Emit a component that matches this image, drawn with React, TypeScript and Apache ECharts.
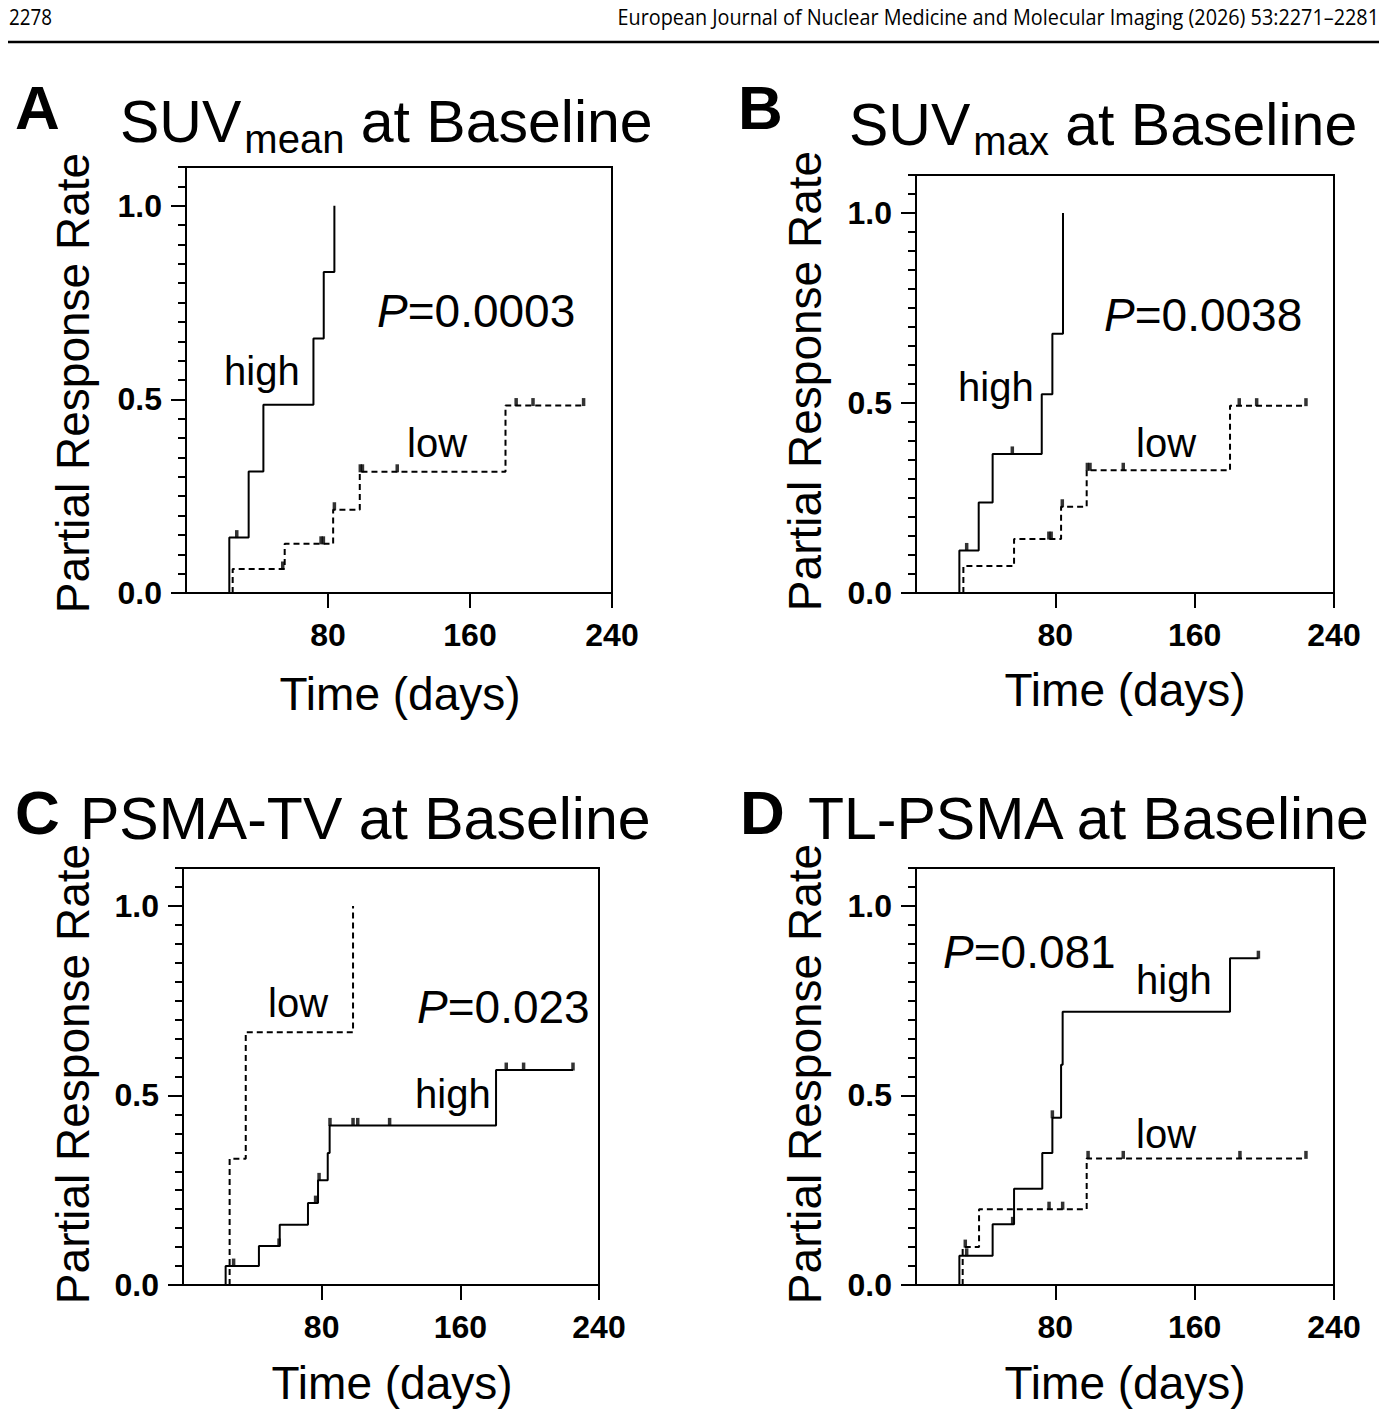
import React, { useEffect, useRef } from "react";
import * as echarts from "echarts";

// ---------- Panel A: SUVmean at Baseline ----------
const aHighTimes = [24.4, 35.3, 43.6, 71.8, 77.6, 83.6];
const aHighRates = [0.143, 0.314, 0.486, 0.657, 0.829, 1.0];
const aHighCensored = [28.6];
const aHighLast = 83.6;
const aLowTimes = [26.3, 55.6, 82.9, 97.9, 180.0];
const aLowRates = [0.062, 0.127, 0.215, 0.313, 0.484];
const aLowCensored = [54.5, 76.1, 77.4, 83.6, 98.2, 99.4, 119.0, 186.0, 195.5, 224.0];
const aLowLast = 224.0;

// ---------- Panel B: SUVmax at Baseline ----------
const bHighTimes = [24.9, 36.0, 44.0, 72.2, 78.3, 84.4];
const bHighRates = [0.112, 0.238, 0.366, 0.523, 0.682, 1.0];
const bHighCensored = [29.1, 55.3];
const bHighLast = 84.4;
const bLowTimes = [27.2, 56.3, 83.3, 98.0, 180.3];
const bLowRates = [0.071, 0.142, 0.227, 0.323, 0.493];
const bLowCensored = [76.3, 77.6, 84.0, 98.4, 99.9, 119.0, 185.6, 195.6, 223.9];
const bLowLast = 223.9;

// ---------- Panel C: PSMA-TV at Baseline ----------
const cLowTimes = [26.9, 36.2, 98.1];
const cLowRates = [0.333, 0.667, 1.0];
const cLowCensored: number[] = [];
const cLowLast = 98.1;
const cHighTimes = [24.6, 43.8, 55.8, 72.1, 77.9, 83.5, 84.6, 180.6];
const cHighRates = [0.05, 0.103, 0.159, 0.216, 0.276, 0.348, 0.421, 0.567];
const cHighCensored = [29.2, 55.4, 76.5, 78.5, 84.8, 98.1, 100.8, 119.2, 186.5, 196.5, 225.0];
const cHighLast = 225.0;

// ---------- Panel D: TL-PSMA at Baseline ----------
const dHighTimes = [24.9, 44.0, 56.3, 72.5, 78.3, 83.3, 84.2, 180.3];
const dHighRates = [0.077, 0.16, 0.254, 0.348, 0.441, 0.581, 0.721, 0.862];
const dHighCensored = [29.1, 55.5, 78.3, 196.6];
const dHighLast = 196.6;
const dLowTimes = [26.8, 36.2, 98.0];
const dLowRates = [0.1, 0.2, 0.334];
const dLowCensored = [28.3, 76.4, 84.2, 98.8, 119.0, 186.0, 223.9];
const dLowLast = 223.9;

// ---------- Axes ----------
const xTickValues = [80, 160, 240];
const yLabelValues = [0, 0.5, 1.0];
const xMax = 240;
const yMax = 1.1;

const FONT = '"Liberation Sans", Arial, sans-serif';
const CENTRAL = 0.347; // central baseline offset (em) for Liberation Sans
const HEADER_FONT = '"Open Sans", sans-serif';
const HEADER_CENTRAL = 0.388;

type Curve = { times: number[]; rates: number[]; censored: number[]; last: number; dashed: boolean };

const panels: { grid: any; curves: Curve[] }[] = [
  {
    grid: { left: 186, top: 167, width: 426, height: 426 },
    curves: [
      { times: aHighTimes, rates: aHighRates, censored: aHighCensored, last: aHighLast, dashed: false },
      { times: aLowTimes, rates: aLowRates, censored: aLowCensored, last: aLowLast, dashed: true },
    ],
  },
  {
    grid: { left: 916, top: 175, width: 418, height: 418 },
    curves: [
      { times: bHighTimes, rates: bHighRates, censored: bHighCensored, last: bHighLast, dashed: false },
      { times: bLowTimes, rates: bLowRates, censored: bLowCensored, last: bLowLast, dashed: true },
    ],
  },
  {
    grid: { left: 183, top: 868, width: 416, height: 417 },
    curves: [
      { times: cLowTimes, rates: cLowRates, censored: cLowCensored, last: cLowLast, dashed: true },
      { times: cHighTimes, rates: cHighRates, censored: cHighCensored, last: cHighLast, dashed: false },
    ],
  },
  {
    grid: { left: 916, top: 868, width: 418, height: 417 },
    curves: [
      { times: dHighTimes, rates: dHighRates, censored: dHighCensored, last: dHighLast, dashed: false },
      { times: dLowTimes, rates: dLowRates, censored: dLowCensored, last: dLowLast, dashed: true },
    ],
  },
];

function stepData(c: Curve) {
  const pts: number[][] = [[c.times[0], 0]];
  c.times.forEach((t, i) => pts.push([t, c.rates[i]]));
  if (c.last > c.times[c.times.length - 1]) pts.push([c.last, c.rates[c.rates.length - 1]]);
  return pts;
}
function rateAt(c: Curve, t: number) {
  let r = 0;
  c.times.forEach((tt, i) => {
    if (tt <= t + 1e-9) r = c.rates[i];
  });
  return r;
}

let measureCtx: CanvasRenderingContext2D | null = null;
function textWidth(text: string, font: string) {
  if (!measureCtx) measureCtx = document.createElement("canvas").getContext("2d");
  measureCtx!.font = font;
  return measureCtx!.measureText(text).width;
}
function fontStr(size: number, weight = "normal", style = "normal", family = FONT) {
  return `${style} ${weight} ${size}px ${family}`;
}

type Seg = { text: string; size: number; weight?: string; style?: string; dy?: number; gap?: number };
function textRun(x: number, baseline: number, segs: Seg[]) {
  const els: any[] = [];
  let cx = x;
  for (const s of segs) {
    const font = fontStr(s.size, s.weight, s.style);
    els.push({
      type: "text",
      x: cx,
      y: baseline + (s.dy || 0) - CENTRAL * s.size,
      silent: true,
      style: {
        text: s.text,
        font,
        fill: "#000",
        textAlign: "left",
        textVerticalAlign: "middle",
        align: "left",
        verticalAlign: "middle",
      },
    });
    cx += textWidth(s.text, font) + (s.gap || 0);
  }
  return els;
}
function centerText(cx: number, baseline: number, text: string, size: number) {
  return {
    type: "text",
    x: cx,
    y: baseline - CENTRAL * size,
    silent: true,
    style: {
      text,
      font: fontStr(size),
      fill: "#000",
      textAlign: "center",
      textVerticalAlign: "middle",
      align: "center",
      verticalAlign: "middle",
    },
  };
}
function yName(cx: number, cy: number) {
  return {
    type: "text",
    x: cx,
    y: cy,
    rotation: Math.PI / 2,
    silent: true,
    style: {
      text: "Partial Response Rate",
      font: fontStr(46),
      fill: "#000",
      textAlign: "center",
      textVerticalAlign: "middle",
      align: "center",
      verticalAlign: "middle",
    },
  };
}
function headerText(x: number, baseline: number, text: string, targetWidth: number, alignRight: boolean) {
  const size = 21;
  const font = `normal normal ${size}px ${HEADER_FONT}`;
  const w = textWidth(text, font);
  return {
    type: "text",
    x,
    y: baseline - HEADER_CENTRAL * size,
    scaleX: targetWidth / w,
    silent: true,
    style: {
      text,
      font,
      fill: "#000",
      textAlign: alignRight ? "right" : "left",
      textVerticalAlign: "middle",
      align: alignRight ? "right" : "left",
      verticalAlign: "middle",
    },
  };
}

function buildOption() {
  const grid: any[] = [];
  const xAxis: any[] = [];
  const yAxis: any[] = [];
  const series: any[] = [];

  panels.forEach((p, i) => {
    grid.push({ ...p.grid, show: true, borderColor: "#000", borderWidth: 2, backgroundColor: "transparent" });
    xAxis.push({
      type: "value",
      gridIndex: i,
      min: 0,
      max: xMax,
      interval: 80,
      position: "bottom",
      axisLine: { show: true, lineStyle: { color: "#000", width: 2 } },
      axisTick: { show: true, length: 15, customValues: xTickValues, lineStyle: { color: "#000", width: 2 } },
      axisLabel: {
        show: true,
        customValues: xTickValues,
        margin: 26,
        color: "#000",
        fontFamily: FONT,
        fontWeight: "bold",
        fontSize: 32,
      },
      splitLine: { show: false },
    });
    // minor ticks every 0.05 + labels
    yAxis.push({
      type: "value",
      gridIndex: i,
      min: 0,
      max: yMax,
      interval: 0.05,
      position: "left",
      axisLine: { show: true, lineStyle: { color: "#000", width: 2 } },
      axisTick: { show: true, length: 8, lineStyle: { color: "#000", width: 2 } },
      axisLabel: {
        show: true,
        customValues: yLabelValues,
        formatter: (v: number) => v.toFixed(1),
        margin: 24,
        color: "#000",
        fontFamily: FONT,
        fontWeight: "bold",
        fontSize: 32,
      },
      splitLine: { show: false },
    });
    // major ticks at 0, 0.5, 1.0
    yAxis.push({
      type: "value",
      gridIndex: i,
      min: 0,
      max: yMax,
      interval: 0.5,
      position: "left",
      axisLine: { show: false },
      axisTick: { show: true, length: 15, customValues: yLabelValues, lineStyle: { color: "#000", width: 2 } },
      axisLabel: { show: false },
      splitLine: { show: false },
    });

    p.curves.forEach((c) => {
      series.push({
        type: "line",
        xAxisIndex: i,
        yAxisIndex: i * 2,
        step: "end",
        symbol: "none",
        data: stepData(c),
        lineStyle: { color: "#000", width: 2, type: c.dashed ? [6, 4] : "solid" },
        z: 3,
      });
      series.push({
        type: "scatter",
        xAxisIndex: i,
        yAxisIndex: i * 2,
        symbol: "rect",
        symbolSize: [3.5, 8],
        symbolOffset: [0, -3.5],
        itemStyle: { color: "#000" },
        data: c.censored.map((t) => [t, rateAt(c, t)]),
        z: 4,
      });
    });
  });

  const graphic: any[] = [];
  // header
  graphic.push(headerText(9, 25, "2278", 43, false));
  graphic.push(
    headerText(1379, 25, "European Journal of Nuclear Medicine and Molecular Imaging (2026) 53:2271–2281", 762, true)
  );
  graphic.push({
    type: "line",
    silent: true,
    shape: { x1: 8, y1: 42, x2: 1379, y2: 42 },
    style: { stroke: "#000", lineWidth: 2.7 },
  });

  // panel letters
  graphic.push(...textRun(15, 129, [{ text: "A", size: 62, weight: "bold" }]));
  graphic.push(...textRun(738, 129, [{ text: "B", size: 62, weight: "bold" }]));
  graphic.push(...textRun(15, 834, [{ text: "C", size: 62, weight: "bold" }]));
  graphic.push(...textRun(740, 834, [{ text: "D", size: 62, weight: "bold" }]));

  // titles
  graphic.push(
    ...textRun(120, 142, [
      { text: "SUV", size: 59, gap: 3 },
      { text: "mean", size: 40, dy: 11 },
      { text: " at Baseline", size: 59 },
    ])
  );
  graphic.push(
    ...textRun(849, 145, [
      { text: "SUV", size: 59, gap: 3 },
      { text: "max", size: 40, dy: 10 },
      { text: " at Baseline", size: 59 },
    ])
  );
  graphic.push(...textRun(80, 839, [{ text: "PSMA-TV at Baseline", size: 59 }]));
  graphic.push(...textRun(808, 839, [{ text: "TL-PSMA at Baseline", size: 59 }]));

  // axis names
  graphic.push(yName(73, 383), yName(805, 381), yName(73, 1074), yName(805, 1074));
  graphic.push(
    centerText(400, 710, "Time (days)", 46),
    centerText(1125, 706, "Time (days)", 46),
    centerText(392, 1399, "Time (days)", 46),
    centerText(1125, 1399, "Time (days)", 46)
  );

  // P values
  const pRun = (x: number, b: number, v: string) =>
    textRun(x, b, [
      { text: "P", size: 46, style: "italic" },
      { text: "=" + v, size: 46 },
    ]);
  graphic.push(...pRun(377, 327, "0.0003"), ...pRun(1104, 331, "0.0038"), ...pRun(417, 1023, "0.023"), ...pRun(943, 968, "0.081"));

  // group labels
  const lab = (x: number, b: number, t: string) => textRun(x, b, [{ text: t, size: 40 }]);
  graphic.push(
    ...lab(224, 385, "high"),
    ...lab(407, 457, "low"),
    ...lab(958, 401, "high"),
    ...lab(1136, 457, "low"),
    ...lab(268, 1017, "low"),
    ...lab(415, 1108, "high"),
    ...lab(1136, 994, "high"),
    ...lab(1136, 1148, "low")
  );

  return {
    animation: false,
    backgroundColor: "#fff",
    grid,
    xAxis,
    yAxis,
    series,
    graphic: { elements: graphic },
  };
}

export default function App() {
  const ref = useRef<HTMLDivElement>(null);
  useEffect(() => {
    if (!ref.current) return;
    const chart = echarts.init(ref.current, undefined, { renderer: "svg" });
    chart.setOption(buildOption() as any);
    return () => chart.dispose();
  }, []);
  return (
    <div
      ref={ref}
      style={{ position: "absolute", left: 0, top: 0, width: 1387, height: 1418, background: "#fff" }}
    />
  );
}
